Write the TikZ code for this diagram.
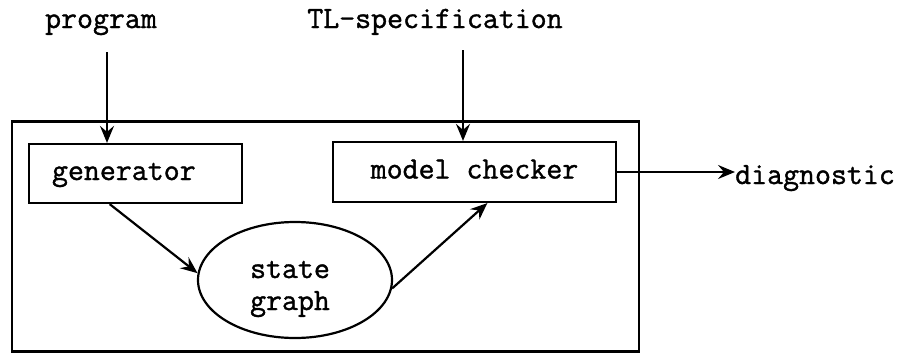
\documentclass[tikz,border=0pt]{standalone}
\usepackage{fontspec}
\newfontfamily\typew[FakeBold=1.2]{Latin Modern Mono}
\usetikzlibrary{arrows.meta,shapes.geometric,calc}
\begin{document}
\begin{tikzpicture}[x=1pt,y=-1pt,
  every node/.style={font=\typew\fontsize{31}{36}\selectfont},
  arr/.style={line width=2.2pt, -{Stealth[length=17pt,width=14pt,inset=6pt]}},
  boxnode/.style={draw, line width=2.2pt, inner sep=0pt, text height=19pt, text depth=6pt},
  label/.style={inner sep=0pt, anchor=base}]
\useasboundingbox (0,0) rectangle (903,354);
% outer box
\node[draw, line width=2.4pt, minimum width=627pt, minimum height=230pt, inner sep=0pt] (outer) at (325.5,236.5) {};
% inputs
\node[label] (prog) at (101,28) {program};
\node[label] (tl) at (435,28) {TL-specification};
\coordinate (progend) at (107,52);
\coordinate (tlend) at (463,50);
% boxes
\node[boxnode, minimum width=213pt, minimum height=59pt, text width=167pt, align=left, inner xsep=23pt] (gen) at (135.5,173.5) {generator};
\node[boxnode, minimum width=283pt, minimum height=60pt] (mc) at (474.5,172) {model checker};
\node[draw, ellipse, line width=2.2pt, minimum width=194pt, minimum height=116pt, inner sep=0pt] (sg) at (295,280) {};
\node[label] (st) at (290,278) {state};
\node[label] (gr) at (290,310) {graph};
\node[inner sep=0pt, anchor=base west] (diag) at (735,184) {diagnostic};
% connectors
\draw[arr] (progend) -- (gen.north -| progend);
\draw[arr] (tlend) -- (mc.north -| tlend);
\draw[arr] (mc.east) -- (diag.west |- mc.east);
\draw[arr] ($(gen.south west)!0.38!(gen.south east)$) -- (sg.176);
\draw[arr] (sg.-5) -- ($(mc.south west)!0.545!(mc.south east)$);
\end{tikzpicture}
\end{document}
